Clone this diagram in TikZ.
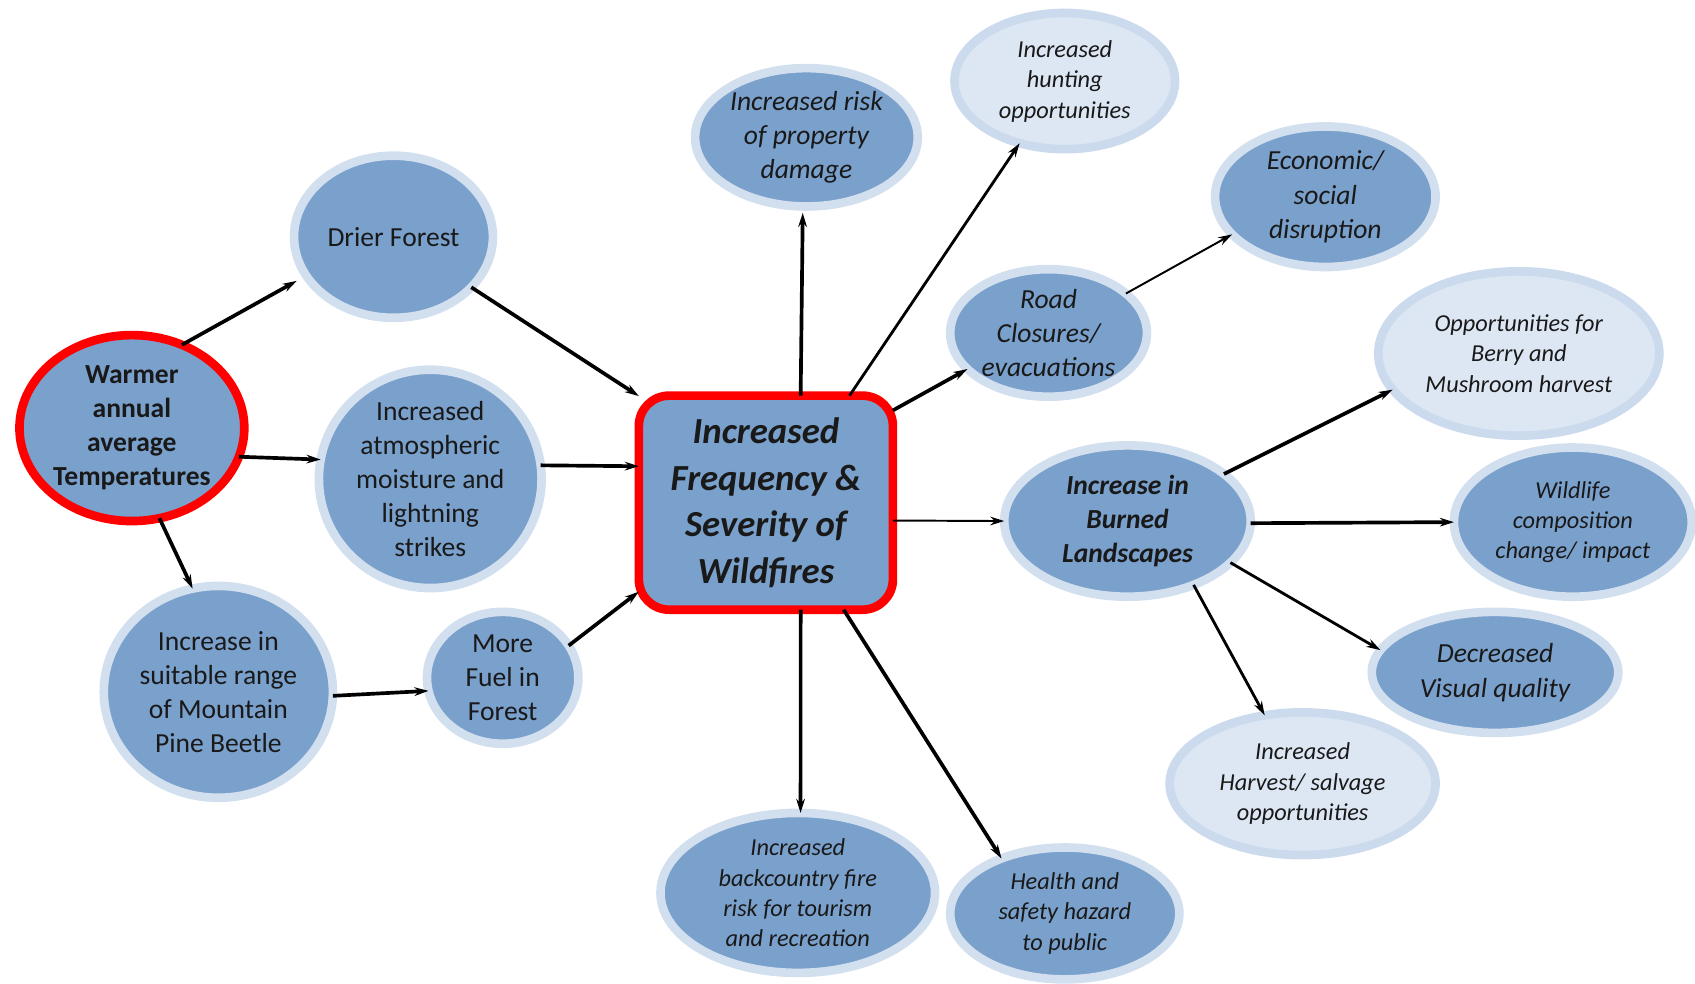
\documentclass[tikz,border=0pt]{standalone}
\usepackage{fontspec}
\setmainfont{Carlito}
\usetikzlibrary{shapes.geometric,arrows.meta}

\definecolor{nodeblue}{RGB}{122,160,204}
\definecolor{ringblue}{RGB}{210,223,239}
\definecolor{palefill}{RGB}{221,231,243}
\definecolor{paleedge}{RGB}{203,218,237}
\definecolor{inkgray}{RGB}{25,25,25}

\tikzset{
  bub/.style={ellipse, draw=ringblue, line width=8pt, fill=nodeblue, inner sep=0pt, outer sep=0pt},
  pale/.style={ellipse, draw=paleedge, line width=8pt, fill=palefill, inner sep=0pt, outer sep=0pt},
  sz/.style 2 args={minimum width=#1pt, minimum height=#2pt},
  txt/.style={align=center, inner sep=0pt, text=inkgray, font=\fontsize{25.5}{31.5}\selectfont},
  itxt/.style={txt, font=\fontsize{25.5}{31.5}\selectfont\itshape},
  stxt/.style={txt, font=\fontsize{22.5}{28.2}\selectfont\itshape},
  arr/.style={line width=3.4pt, -{Stealth[length=13pt,width=8pt]}},
  thin arr/.style={arr, line width=1.8pt},
}

\begin{document}
\begin{tikzpicture}[x=1pt, y=-1pt]
\useasboundingbox (0,0) rectangle (1568,910);

% drivers on the left
\node[bub, sz={208}{172}, draw=red, line width=8pt] (warm) at (122,396) {};
\node[txt, font=\fontsize{25.5}{31.5}\selectfont\bfseries] (warm-t) at (warm) {Warmer\\annual\\average\\Temperatures};

\node[bub, sz={184}{150}] (dry) at (364,219) {};
\node[txt] (dry-t) at (dry) {Drier Forest};

\node[bub, sz={206}{202}] (atm) at (398,443) {};
\node[txt] (atm-t) at (atm) {Increased\\atmospheric\\moisture and\\lightning\\strikes};

\node[bub, sz={212}{196}] (pine) at (202,640) {};
\node[txt] (pine-t) at (pine) {Increase in\\suitable range\\of Mountain\\Pine Beetle};

\node[bub, sz={140}{122}] (fuel) at (465,627) {};
\node[txt] (fuel-t) at (fuel) {More\\Fuel in\\Forest};

% central box
\node[rectangle, rounded corners=28pt, draw=red, line width=8pt, fill=nodeblue,
      minimum width=235pt, minimum height=198pt, inner sep=0pt, outer sep=0pt] (fire) at (708.5,465) {};
\node[txt, font=\fontsize{34}{43}\selectfont\bfseries\itshape] (fire-t) at (fire) {Increased\\Frequency \&\\Severity of\\Wildfires};

% consequences
\node[bub, sz={206}{128}] (prop) at (746,127) {};
\node[itxt] (prop-t) at (prop) {Increased risk\\of property\\damage};

\node[pale, sz={204}{126}] (hunt) at (985,75) {};
\node[stxt] (hunt-t) at (hunt) {Increased\\hunting\\opportunities};

\node[bub, sz={204}{130}] (econ) at (1226,182) {};
\node[itxt] (econ-t) at (econ) {Economic/\\social\\disruption};

\node[bub, sz={182}{118}] (road) at (970,308) {};
\node[itxt] (road-t) at (road) {Road\\Closures/\\evacuations};

\node[pale, sz={260}{152}] (berry) at (1405,327) {};
\node[stxt] (berry-t) at (berry) {Opportunities for\\Berry and\\Mushroom harvest};

\node[bub, sz={228}{140}] (burn) at (1043,482) {};
\node[txt, font=\fontsize{25.5}{31.5}\selectfont\bfseries\itshape] (burn-t) at (burn) {Increase in\\Burned\\Landscapes};

\node[bub, sz={220}{138}] (wild) at (1455,483) {};
\node[stxt] (wild-t) at (wild) {Wildlife\\composition\\change/ impact};

\node[bub, sz={228}{112}] (vis) at (1383,622) {};
\node[itxt, font=\fontsize{25.5}{32}\selectfont\itshape] (vis-t) at (vis) {Decreased\\Visual quality};

\node[pale, sz={246}{132}] (harv) at (1205,725) {};
\node[stxt] (harv-t) at (harv) {Increased\\Harvest/ salvage\\opportunities};

\node[bub, sz={254}{148}] (back) at (738,826) {};
\node[stxt] (back-t) at (back) {Increased\\backcountry fire\\risk for tourism\\and recreation};

\node[bub, sz={212}{122}] (health) at (985,845) {};
\node[stxt] (health-t) at (health) {Health and\\safety hazard\\to public};

% connectors
\draw[arr, shorten >=10pt] (warm.59) -- (dry.204);
\draw[arr] (warm.-15) -- (atm.170);
\draw[arr] (warm.-73) -- (pine.104);
\draw[arr] (dry.-33) -- (fire.140);
\draw[arr] (atm.7) -- (fire.164);
\draw[arr] (pine.-2.5) -- (fuel.190);
\draw[arr] (fuel.26) -- (fire.215);

\draw[arr, shorten >=6pt] (fire.72) -- (prop.-93);
\draw[arr, line width=2.6pt] (fire.52) -- (hunt.234);
\draw[arr] (fire.36) -- (road.204);
\draw[thin arr] (road.27) -- (econ.202);
\draw[thin arr] (fire.-8) -- (burn.180);
\draw[arr] (fire.-72.5) -- (back.88);
\draw[arr] (fire.-54.5) -- (health.139);

\draw[arr] (burn.26) -- (berry.196);
\draw[arr] (burn.-1) -- (wild.180);
\draw[arr, line width=2.6pt] (burn.-22.5) -- (vis.169);
\draw[arr, line width=2.6pt] (burn.-44) -- (harv.119);
\end{tikzpicture}
\end{document}
